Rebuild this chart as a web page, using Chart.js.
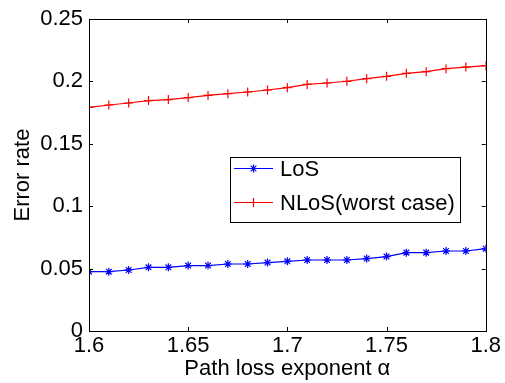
<!DOCTYPE html>
<html>
<head>
<meta charset="utf-8">
<script src="https://cdn.jsdelivr.net/npm/chart.js@4.4.1/dist/chart.umd.min.js"></script>
<style>
  html, body { margin: 0; padding: 0; background: #fff; }
  #wrap { width: 505px; height: 383px; }
</style>
</head>
<body>
<div id="wrap"><canvas id="chart" width="505" height="383"></canvas></div>
<script>
// data
const alpha = [1.6, 1.61, 1.62, 1.63, 1.64, 1.65, 1.66, 1.67, 1.68, 1.69, 1.7,
               1.71, 1.72, 1.73, 1.74, 1.75, 1.76, 1.77, 1.78, 1.79, 1.8];
const losRate = [0.0475, 0.0475, 0.0489, 0.0510, 0.0510, 0.0524, 0.0524, 0.0537, 0.0537, 0.0548, 0.0558,
                 0.0569, 0.0569, 0.0569, 0.0580, 0.0596, 0.0628, 0.0628, 0.0641, 0.0641, 0.0660];
const nlosRate = [0.1792, 0.1811, 0.1827, 0.1846, 0.1854, 0.1870, 0.1888, 0.1902, 0.1915, 0.1931, 0.1950,
                  0.1976, 0.1987, 0.2001, 0.2022, 0.2041, 0.2065, 0.2078, 0.2102, 0.2115, 0.2126];
const xTicks = [1.6, 1.65, 1.7, 1.75, 1.8];
const yTicks = [0, 0.05, 0.1, 0.15, 0.2, 0.25];
const seriesNames = ['LoS', 'NLoS(worst case)'];

const FONT = "'Liberation Sans', Arial, Helvetica, sans-serif";
const FSIZE = 22;

const toPoints = (ys) => ys.map((y, i) => ({ x: alpha[i], y: y }));

// box around the plot, inward ticks, legend inside the axes
const matlabAxes = {
    id: 'matlabAxes',
    afterDraw(chart) {
        const { ctx, chartArea: a, scales } = chart;
        ctx.save();
        ctx.strokeStyle = '#000';
        ctx.lineWidth = 1;
        ctx.strokeRect(Math.round(a.left) + 0.5, Math.round(a.top) + 0.5,
                       Math.round(a.right - a.left), Math.round(a.bottom - a.top));
        const len = 4;
        ctx.beginPath();
        xTicks.forEach(v => {
            const px = Math.round(scales.x.getPixelForValue(v)) + 0.5;
            ctx.moveTo(px, a.bottom); ctx.lineTo(px, a.bottom - len);
            ctx.moveTo(px, a.top); ctx.lineTo(px, a.top + len);
        });
        yTicks.forEach(v => {
            const py = Math.round(scales.y.getPixelForValue(v)) + 0.5;
            ctx.moveTo(a.left, py); ctx.lineTo(a.left + len, py);
            ctx.moveTo(a.right, py); ctx.lineTo(a.right - len, py);
        });
        ctx.stroke();

        // legend
        const bx = a.left + 141, by = a.top + 138, bw = 230, bh = 65;
        ctx.fillStyle = '#fff';
        ctx.fillRect(bx, by, bw, bh);
        ctx.strokeRect(bx + 0.5, by + 0.5, bw, bh);
        chart.data.datasets.forEach((ds, i) => {
            const cy = by + 11 + i * 34 + 0.5;
            ctx.strokeStyle = ds.borderColor;
            ctx.lineWidth = 1.2;
            ctx.beginPath();
            ctx.moveTo(bx + 4, cy); ctx.lineTo(bx + 43, cy);
            ctx.stroke();
            Chart.helpers.drawPoint(ctx, {
                pointStyle: ds.pointStyle, radius: ds.pointRadius, borderWidth: 1.2
            }, bx + 23.5, cy);
            ctx.fillStyle = '#000';
            ctx.font = FSIZE + 'px ' + FONT;
            ctx.textBaseline = 'middle';
            ctx.fillText(ds.label, bx + 50, cy + 1);
        });
        ctx.restore();
    }
};

new Chart(document.getElementById('chart'), {
    type: 'line',
    data: {
        datasets: [{
            label: seriesNames[0],
            data: toPoints(losRate),
            borderColor: '#0000ff',
            backgroundColor: '#0000ff',
            borderWidth: 1.2,
            pointStyle: 'star',
            pointRadius: 4,
            pointBorderWidth: 1.2,
            tension: 0
        }, {
            label: seriesNames[1],
            data: toPoints(nlosRate),
            borderColor: '#ff0000',
            backgroundColor: '#ff0000',
            borderWidth: 1.2,
            pointStyle: 'cross',
            pointRadius: 4.5,
            pointBorderWidth: 1.2,
            tension: 0
        }]
    },
    options: {
        responsive: false,
        animation: false,
        layout: { padding: { left: 0, right: 17, top: 19, bottom: 0 } },
        plugins: {
            legend: { display: false },
            tooltip: { enabled: false }
        },
        scales: {
            x: {
                type: 'linear',
                min: 1.6,
                max: 1.8,
                afterBuildTicks: (s) => { s.ticks = xTicks.map(v => ({ value: v })); },
                afterFit: (s) => { s.height = 52; },
                grid: { display: false, drawTicks: false },
                border: { display: false },
                ticks: {
                    color: '#000',
                    font: { family: FONT, size: FSIZE, lineHeight: 1 },
                    padding: 4,
                    maxRotation: 0,
                    callback: (v) => String(v)
                },
                title: {
                    display: true,
                    text: 'Path loss exponent α',
                    color: '#000',
                    font: { family: FONT, size: FSIZE, lineHeight: 1 },
                    padding: { top: 0, bottom: 3 }
                }
            },
            y: {
                min: 0,
                max: 0.25,
                afterBuildTicks: (s) => { s.ticks = yTicks.map(v => ({ value: v })); },
                afterFit: (s) => { s.width = 89; },
                grid: { display: false, drawTicks: false },
                border: { display: false },
                ticks: {
                    color: '#000',
                    font: { family: FONT, size: FSIZE, lineHeight: 1 },
                    padding: 6,
                    callback: (v) => String(v)
                },
                title: {
                    display: true,
                    text: 'Error rate',
                    color: '#000',
                    font: { family: FONT, size: FSIZE, lineHeight: 1 },
                    padding: { top: 12, bottom: 0 }
                }
            }
        }
    },
    plugins: [matlabAxes]
});
</script>
</body>
</html>
